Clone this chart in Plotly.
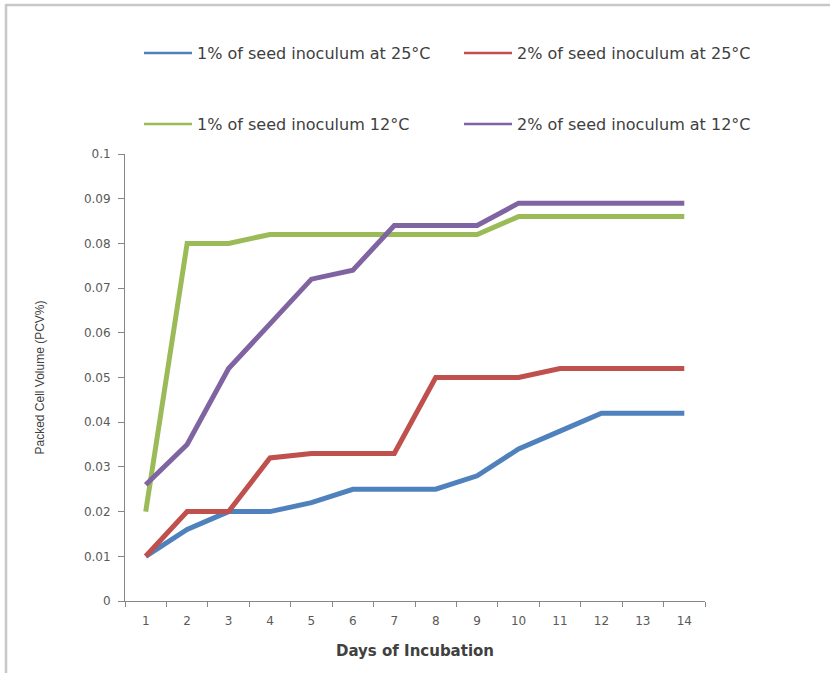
import plotly.graph_objects as go

days = ["1", "2", "3", "4", "5", "6", "7", "8", "9", "10", "11", "12", "13", "14"]

pcv_1pct_25c = [0.010, 0.016, 0.020, 0.020, 0.022, 0.025, 0.025, 0.025, 0.028, 0.034, 0.038, 0.042, 0.042, 0.042]
pcv_2pct_25c = [0.010, 0.020, 0.020, 0.032, 0.033, 0.033, 0.033, 0.050, 0.050, 0.050, 0.052, 0.052, 0.052, 0.052]
pcv_1pct_12c = [0.020, 0.080, 0.080, 0.082, 0.082, 0.082, 0.082, 0.082, 0.082, 0.086, 0.086, 0.086, 0.086, 0.086]
pcv_2pct_12c = [0.026, 0.035, 0.052, 0.062, 0.072, 0.074, 0.084, 0.084, 0.084, 0.089, 0.089, 0.089, 0.089, 0.089]

series_names = [
    "1% of seed inoculum at 25°C",
    "2% of seed inoculum at 25°C",
    "1% of seed inoculum 12°C",
    "2% of seed inoculum at 12°C",
]
series_values = [pcv_1pct_25c, pcv_2pct_25c, pcv_1pct_12c, pcv_2pct_12c]
series_colors = ["#4F81BD", "#C0504D", "#9BBB59", "#8064A2"]
legend_ids = ["legend", "legend2", "legend3", "legend4"]

W, H = 830, 673
L, R, T, B = 125, 125, 154, 72
pw, ph = W - L - R, H - T - B


def px(xp):
    return (xp - L) / pw


def py(yp):
    return (H - B - yp) / ph


# legend positions in page pixels (left x, centre y)
legend_pos = [(139, 53), (459, 53), (139, 124), (459, 124)]

fig = go.Figure()

# data lines (thick)
for name, vals, col in zip(series_names, series_values, series_colors):
    fig.add_trace(go.Scatter(
        x=days, y=vals, mode="lines", name=name,
        line=dict(color=col, width=5), showlegend=False,
    ))

# legend entries (thin sample lines like the original)
for name, col, lg in zip(series_names, series_colors, legend_ids):
    fig.add_trace(go.Scatter(
        x=[None], y=[None], mode="lines", name=name,
        line=dict(color=col, width=2.5), legend=lg, showlegend=True,
    ))

legend_font = dict(family="DejaVu Sans", size=16, color="#404040")
legend_layouts = {}
for lg, (lx, ly) in zip(legend_ids, legend_pos):
    legend_layouts[lg] = dict(
        orientation="h", x=px(lx), xanchor="left", y=py(ly), yanchor="middle",
        font=legend_font, itemwidth=48, bgcolor="rgba(0,0,0,0)",
    )

fig.update_layout(
    width=W, height=H,
    margin=dict(l=L, r=R, t=T, b=B),
    paper_bgcolor="white", plot_bgcolor="white",
    font=dict(family="DejaVu Sans", color="#595959"),
    xaxis=dict(
        type="category", range=[-0.5, 13.5], tickson="boundaries", ticks="outside", ticklen=5,
        tickcolor="#868686", showline=True, linecolor="#868686", linewidth=1,
        showgrid=False, zeroline=False, ticklabelstandoff=9,
        tickfont=dict(family="DejaVu Sans", size=12, color="#595959"),
        title=dict(text="<b>Days of Incubation</b>", standoff=18,
                   font=dict(family="DejaVu Sans", size=15, color="#404040")),
    ),
    yaxis=dict(
        range=[0, 0.1], dtick=0.01, tick0=0, ticks="outside", ticklen=6,
        tickcolor="#868686", showline=True, linecolor="#868686", linewidth=1,
        showgrid=False, zeroline=False, ticklabelstandoff=5,
        tickfont=dict(family="DejaVu Sans", size=12, color="#595959"),
        title=dict(text="Packed Cell Volume (PCV%)", standoff=36,
                   font=dict(family="Liberation Sans Narrow, Liberation Sans", size=12, color="#404040")),
    ),
    shapes=[
        dict(type="line", xref="paper", yref="paper", x0=px(6), x1=px(830), y0=py(5), y1=py(5),
             line=dict(color="#C8C8C8", width=2.5)),
        dict(type="line", xref="paper", yref="paper", x0=px(6), x1=px(6), y0=py(4), y1=py(673),
             line=dict(color="#C8C8C8", width=2.5)),
    ],
    **legend_layouts,
)

fig.write_html("out.html", config={"displayModeBar": False},
               post_script="document.body.style.margin='0';")
